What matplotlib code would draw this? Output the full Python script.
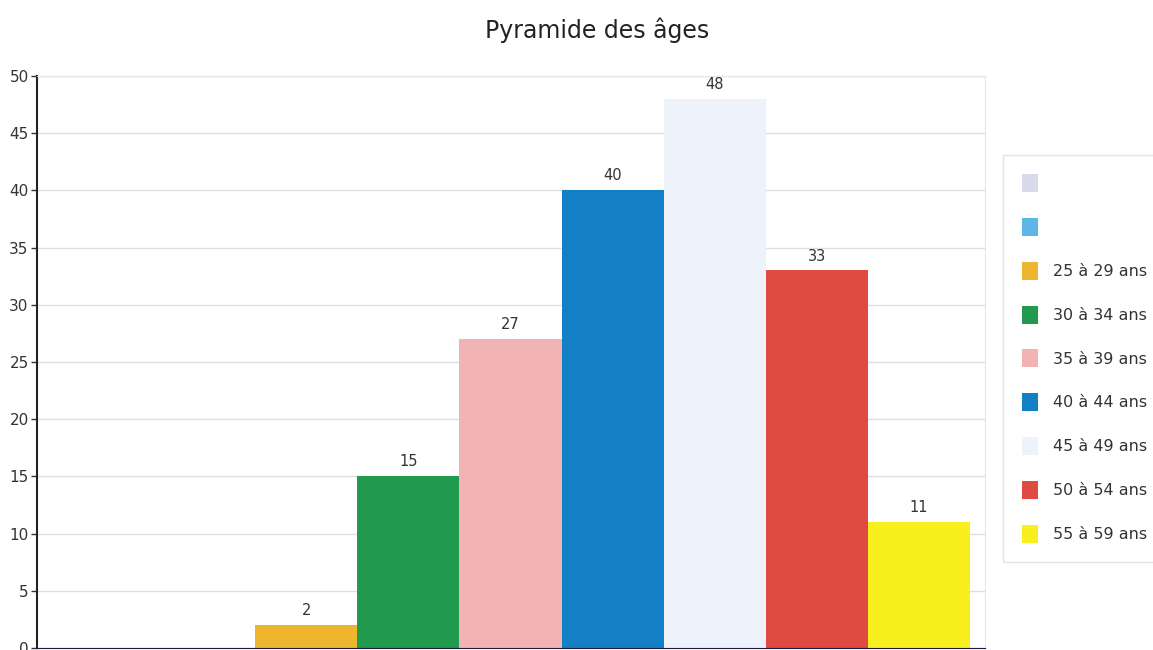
import numpy as np
import matplotlib
matplotlib.use('Agg')
import matplotlib.pyplot as plt
from matplotlib.patches import Patch

# data
labels  = ['', '', '25 à 29 ans', '30 à 34 ans', '35 à 39 ans', '40 à 44 ans',
           '45 à 49 ans', '50 à 54 ans', '55 à 59 ans']
values  = [0, 0, 2, 15, 27, 40, 48, 33, 11]
colors  = ['#d9d9ea', '#5cb6e6', '#eeb52f', '#219a4e', '#f1b3b3', '#1380c6',
           '#eef3fb', '#e04a40', '#f8f01e']
yticks  = [0, 5, 10, 15, 20, 25, 30, 35, 40, 45, 50]

W, H = 1153, 650
fig = plt.figure(figsize=(W/100, H/100), dpi=100)
ax = fig.add_axes([37/W, 2/H, (985-37)/W, (648-76)/H])

x = np.arange(len(values))
bars = ax.bar(x, values, width=1.0, color=colors, edgecolor='none', zorder=2)
ax.bar_label(bars, labels=[str(v) if v else '' for v in values],
             padding=5, fontsize=10.5, color='#333333')

ax.set_xlim(-0.5-0.137, len(values)-0.5+0.147)
ax.set_ylim(0, 50)
ax.set_yticks(yticks)
ax.set_xticks([])
ax.tick_params(axis='y', length=4, width=1, labelsize=11, colors='#333333', pad=2)
ax.yaxis.grid(True, color='#dedede', lw=1)
ax.set_axisbelow(True)
for s in ['top', 'right']:
    ax.spines[s].set_color('#e6e6e6')
ax.spines['left'].set_color('#222222')
ax.spines['left'].set_linewidth(1.5)
ax.spines['bottom'].set_color('#1a1a40')

fig.text(597/W, 1-30/H, 'Pyramide des âges', ha='center', va='center',
         fontsize=17, color='#222222')

handles = [Patch(facecolor=c, edgecolor='none') for c in colors]
leg = fig.legend(handles, labels, loc='upper left',
                 bbox_to_anchor=(1003/W, 1-155/H), bbox_transform=fig.transFigure,
                 prop={'size': 11.5}, frameon=True, fancybox=False, borderaxespad=0,
                 handlelength=1.0, handleheight=1.35, labelspacing=1.62,
                 handletextpad=0.95, borderpad=1.2)
leg.get_frame().set_edgecolor('#dddddd')
leg.get_frame().set_linewidth(1)
for t in leg.get_texts():
    t.set_color('#333333')

fig.savefig('out.png', dpi=100)
